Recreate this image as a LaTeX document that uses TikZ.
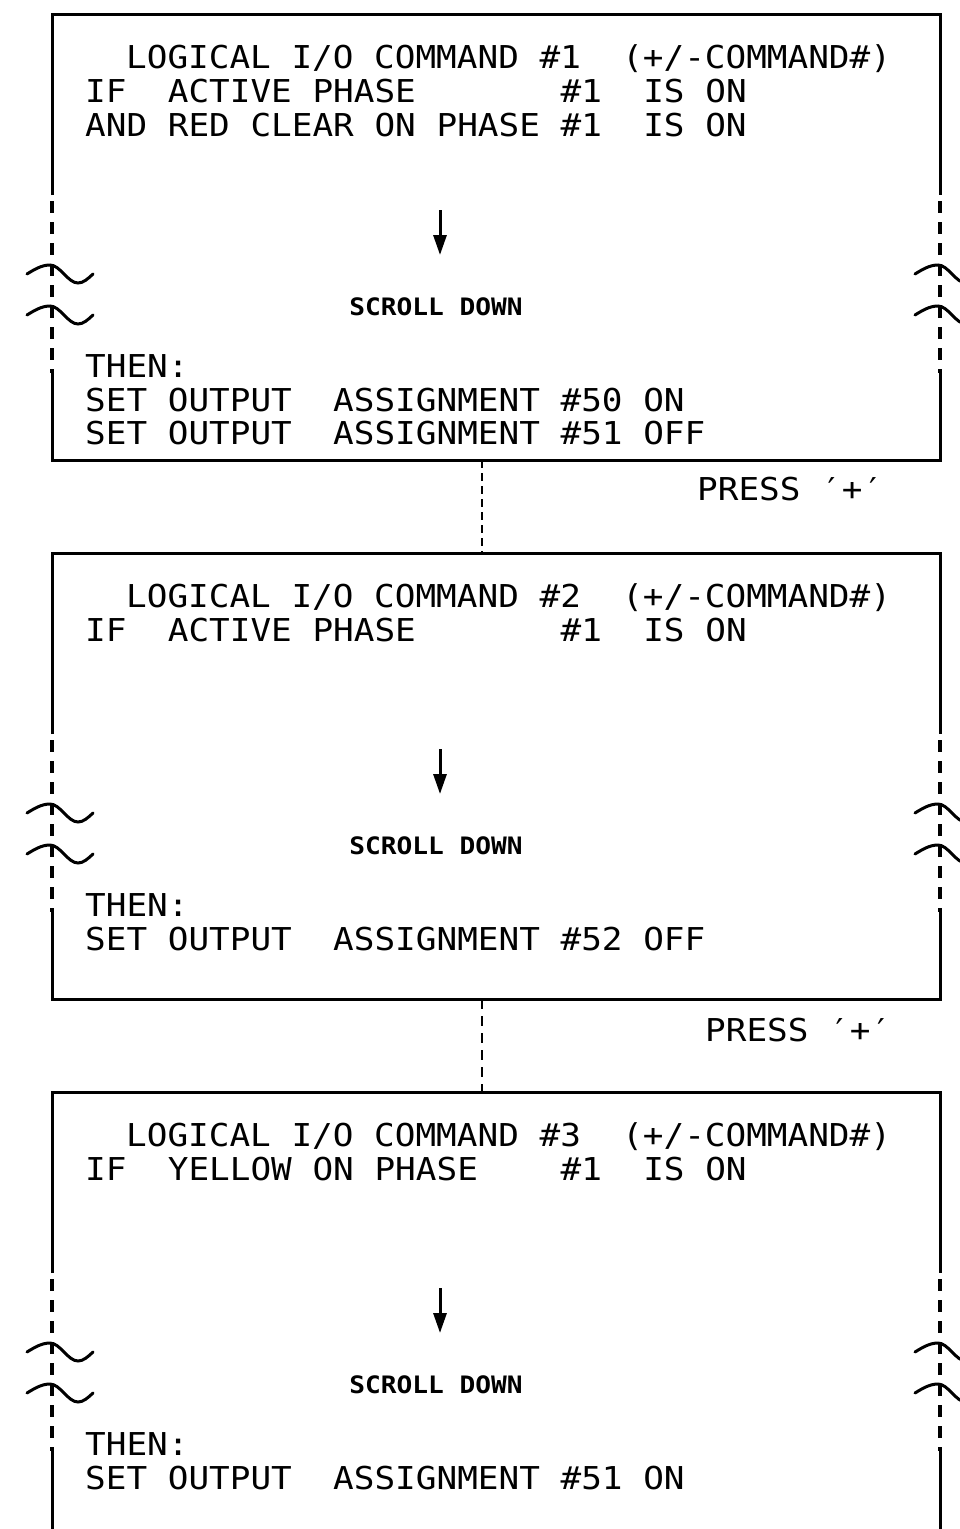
\documentclass[tikz,border=0pt]{standalone}
\usepackage{fontspec}
\setmonofont[FakeStretch=1.09]{DejaVu Sans Mono}
\usetikzlibrary{arrows.meta}
\tikzset{
  frame/.style={line width=3pt},
  brk/.style={line width=3.5pt, dash pattern=on 12pt off 9pt, dash phase=-6pt},
  wave/.style={line width=3pt, line cap=round},
  down/.style={line width=3pt, -{Triangle[length=20pt,width=13pt]}},
  cmd/.style={anchor=base west, inner sep=0pt, font=\ttfamily\fontsize{31.5}{34}\selectfont},
  scroll/.style={anchor=base, inner sep=0pt, font=\ttfamily\bfseries\fontsize{24}{26}\selectfont},
}
\begin{document}
\begin{tikzpicture}[x=1pt,y=-1pt]
  \useasboundingbox (0,0) rectangle (960,1529);
  \clip (0,0) rectangle (960,1529);
  % the three screens
  \foreach \i/\T in {1/14,2/553,3/1092} {
    \begin{scope}[shift={(0,\T)}]
      \draw[frame] (52,181) |- (940,0) -- (940,181);
      \draw[frame] (52,359) |- (940,446) -- (940,359);
      \draw[brk] (52,181) -- (52,359);
      \draw[brk] (940,181) -- (940,359);
      \foreach \x in {52,940} \foreach \y in {260,301}
        \draw[wave] (\x-25,\y) sin (\x-2,\y-9) cos (\x+12,\y) sin (\x+26,\y+9) cos (\x+41,\y);
      \coordinate (arr\i) at (440,196);
      \draw[down] (arr\i) -- ++(0,45);
      \node[scroll] (scroll\i) at (436,301) {SCROLL DOWN};
      \coordinate (top\i) at (482,0);
      \coordinate (bot\i) at (482,446);
    \end{scope}
  }
  % screen 1
  \node[cmd] (head1) at (126,68) {LOGICAL I/O COMMAND \#1~~(+/-COMMAND\#)};
  \node[cmd] (if1) at (85,102) {IF~~ACTIVE PHASE~~~~~~~\#1~~IS ON};
  \node[cmd] (and1) at (85,136) {AND RED CLEAR ON PHASE \#1~~IS ON};
  \node[cmd] (then1) at (85,377) {THEN:};
  \node[cmd] (seta1) at (85,411) {SET OUTPUT~~ASSIGNMENT \#50 ON};
  \node[cmd] (setb1) at (85,444) {SET OUTPUT~~ASSIGNMENT \#51 OFF};
  % screen 2
  \node[cmd] (head2) at (126,607) {LOGICAL I/O COMMAND \#2~~(+/-COMMAND\#)};
  \node[cmd] (if2) at (85,641) {IF~~ACTIVE PHASE~~~~~~~\#1~~IS ON};
  \node[cmd] (then2) at (85,916) {THEN:};
  \node[cmd] (seta2) at (85,950) {SET OUTPUT~~ASSIGNMENT \#52 OFF};
  % screen 3
  \node[cmd] (head3) at (126,1146) {LOGICAL I/O COMMAND \#3~~(+/-COMMAND\#)};
  \node[cmd] (if3) at (85,1180) {IF~~YELLOW ON PHASE~~~~\#1~~IS ON};
  \node[cmd] (then3) at (85,1455) {THEN:};
  \node[cmd] (seta3) at (85,1489) {SET OUTPUT~~ASSIGNMENT \#51 ON};
  % links between screens
  \draw[line width=2.5pt, dash pattern=on 8pt off 5pt] (bot1) -- (top2);
  \draw[line width=1.2pt, dash pattern=on 10pt off 7pt] (bot2) -- (top3);
  \node[cmd] (press1) at (697,500) {PRESS ′+′};
  \node[cmd] (press2) at (705,1041) {PRESS ′+′};
\end{tikzpicture}
\end{document}
